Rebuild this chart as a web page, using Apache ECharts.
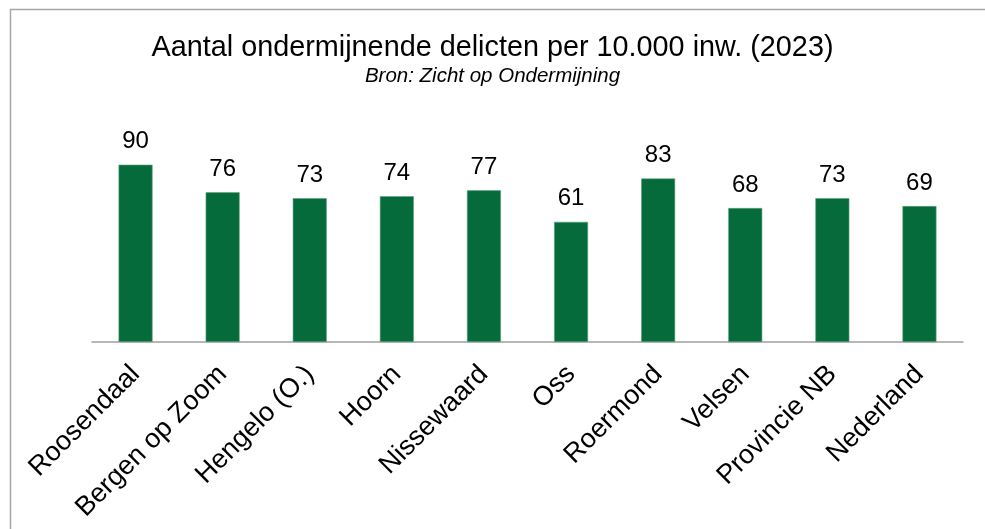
<!DOCTYPE html>
<html><head><meta charset="utf-8">
<script src="https://cdn.jsdelivr.net/npm/echarts@6/dist/echarts.min.js"></script>
<style>html,body{margin:0;padding:0;background:#fff}#c{width:985px;height:529px}</style>
</head><body><div id="c"></div>
<script>
const categories = ['Roosendaal','Bergen op Zoom','Hengelo (O.)','Hoorn','Nissewaard','Oss','Roermond','Velsen','Provincie NB','Nederland'];
const values = [90,76,73,74,77,61,83,68,73,69];
const titleText = 'Aantal ondermijnende delicten per 10.000 inw. (2023)';
const subtitleText = 'Bron: Zicht op Ondermijning';

const chart = echarts.init(document.getElementById('c'), null, {renderer:'canvas'});
chart.setOption({
  backgroundColor:'#fff',
  animation:false,
  graphic:[{type:'polyline',shape:{points:[[10.5,600],[10.5,9.5],[1000,9.5]]},style:{stroke:'#A6A6A6',lineWidth:1.5,fill:null},silent:true}],
  title:{text:titleText,subtext:subtitleText,left:'center',top:29,itemGap:3,
    textStyle:{fontFamily:'Liberation Sans, Arial',fontSize:28.8,fontWeight:'normal',color:'#000'},
    subtextStyle:{fontFamily:'Liberation Sans, Arial',fontSize:20.5,fontStyle:'italic',color:'#000'}},
  grid:{left:92,right:22,top:145,bottom:187,containLabel:false},
  xAxis:{type:'category',data:categories,
    axisLine:{lineStyle:{color:'#A0A0A0',width:1.5}},axisTick:{show:false},
    axisLabel:{rotate:45,interval:0,margin:28,fontFamily:'Liberation Sans, Arial',fontSize:27,color:'#000'}},
  yAxis:{type:'value',min:0,max:100,show:false,splitLine:{show:false}},
  series:[{type:'bar',data:values,barWidth:34,
    itemStyle:{color:'#066B3A',borderColor:'#5FA57F',borderWidth:0.6},
    label:{show:true,position:'top',distance:11,fontFamily:'Liberation Sans, Arial',fontSize:24,color:'#000'}}]
});
</script></body></html>
